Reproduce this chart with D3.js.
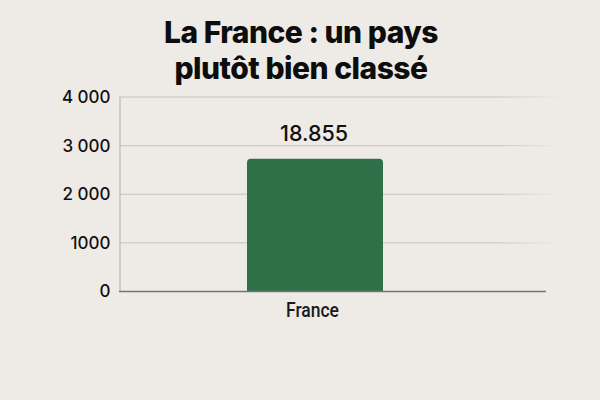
<!DOCTYPE html>
<html><head><meta charset="utf-8">
<script src="https://cdn.jsdelivr.net/npm/d3@7"></script>
<style>html,body{margin:0;padding:0;background:#eeebe7}svg{display:block}</style>
</head><body><svg id="c" width="600" height="400"></svg>
<script>
const titleLines = ["La France : un pays", "plutôt bien classé"];
const categories = ["France"];
const values = [2730];
const valueLabels = ["18.855"];
const yTicks = [0, 1000, 2000, 3000, 4000];
const yTickLabels = ["0", "1000", "2 000", "3 000", "4 000"];

const svg = d3.select("#c");
const x = d3.scaleBand().domain(categories).range([119, 511]).paddingInner(0).paddingOuter(0.941);
const y = d3.scaleLinear().domain([0, 4000]).range([291.5, 97]);

const defs = svg.append("defs");
const g = defs.append("linearGradient").attr("id", "fade").attr("gradientUnits", "userSpaceOnUse")
  .attr("x1", 119).attr("x2", 562).attr("y1", 0).attr("y2", 0);
g.append("stop").attr("offset", 0.85).attr("stop-color", "#cdc9c4");
g.append("stop").attr("offset", 1).attr("stop-color", "#eeebe7");

svg.append("g").selectAll("text").data(titleLines).join("text")
  .attr("x", 301).attr("y", (d, i) => 43 + i * 36)
  .attr("text-anchor", "middle").attr("font-family", "Inter").attr("font-weight", 800)
  .attr("font-size", 30).attr("letter-spacing", -0.5).attr("fill", "#0d0d0d").text(d => d);

// grid
svg.append("g").selectAll("rect").data(yTicks.filter(d => d > 0)).join("rect")
  .attr("x", 119).attr("width", 443).attr("y", d => y(d) - 0.6).attr("height", 1.2).attr("fill", "url(#fade)");

// bars
svg.append("g").selectAll("path").data(values).join("path")
  .attr("fill", "#2e7148")
  .attr("d", (d, i) => {
    const x0 = x(categories[i]), x1 = x0 + x.bandwidth(), t = y(d), b = y(0), r = 4;
    return `M${x0},${b}V${t + r}Q${x0},${t} ${x0 + r},${t}H${x1 - r}Q${x1},${t} ${x1},${t + r}V${b}Z`;
  });

// y axis
const yAxis = d3.axisLeft(y).tickValues(yTicks).tickSize(0).tickPadding(9).tickFormat((d, i) => yTickLabels[i]);
const ya = svg.append("g").attr("transform", "translate(119.5,0)").call(yAxis);
ya.select(".domain").attr("stroke", "#bdb9b4").attr("stroke-width", 1.2);
ya.selectAll("text").attr("font-family", "Inter").attr("font-size", 17).attr("font-weight", 500).attr("fill", "#111");

// x axis
const xAxis = d3.axisBottom(x).tickSize(0).tickPadding(0);
const xa = svg.append("g").attr("transform", "translate(0,291.5)").call(xAxis);
xa.select(".domain").remove();
xa.append("line").attr("x1", 119).attr("x2", 546).attr("stroke", "#77736f").attr("stroke-width", 1.4);
xa.selectAll(".tick text").attr("font-family", "Roboto").attr("font-size", 20).attr("font-weight", 500)
  .attr("fill", "#1a1a1a").attr("y", 11).attr("dx", -2.5)
  .attr("textLength", 53).attr("lengthAdjust", "spacingAndGlyphs");

// value label
svg.append("g").selectAll("text").data(values).join("text")
  .attr("x", (d, i) => x(categories[i]) + x.bandwidth() / 2 - 1).attr("y", 141)
  .attr("text-anchor", "middle").attr("font-family", "Inter").attr("font-size", 21.5).attr("font-weight", 500)
  .attr("fill", "#111").text((d, i) => valueLabels[i]);
</script></body></html>
